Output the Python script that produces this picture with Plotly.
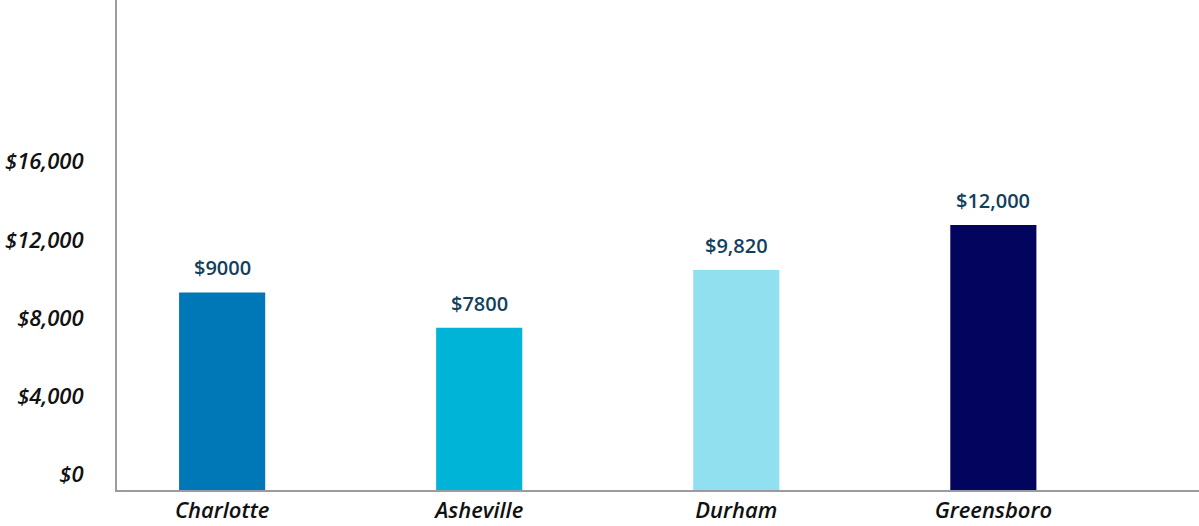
import plotly.graph_objects as go

# cities and what each bar shows
cities = ["Charlotte", "Asheville", "Durham", "Greensboro"]
bar_values = [10100, 8300, 11250, 13550]          # bar heights read against the axis
value_labels = ["$9000", "$7800", "$9,820", "$12,000"]  # text printed over the bars
bar_colors = ["#0077b6", "#00b4d8", "#90e0ef", "#03045e"]

tick_vals = [0, 4000, 8000, 12000, 16000]
tick_text = ["$0", "$4,000", "$8,000", "$12,000", "$16,000"]

axis_font = dict(family="Open Sans", size=22, color="#111111", weight=600, style="italic")

fig = go.Figure()

fig.add_trace(go.Bar(
    x=cities,
    y=bar_values,
    marker=dict(color=bar_colors, line=dict(width=0)),
    width=0.335,
    hoverinfo="skip",
))

# value labels sit a bit above each bar
for c, v, t in zip(cities, bar_values, value_labels):
    fig.add_annotation(
        x=c, y=v, text=t, showarrow=False,
        yanchor="bottom", yshift=9,
        font=dict(family="Open Sans", size=20, color="#123f5c", weight=600),
    )

fig.update_layout(
    width=1199,
    height=526,
    margin=dict(l=117, r=0, t=0, b=36),
    paper_bgcolor="white",
    plot_bgcolor="white",
    showlegend=False,
    font=dict(family="Open Sans"),
)

fig.update_xaxes(
    range=[-0.409, 3.80],
    showline=True, linecolor="#9a9aa2", linewidth=2,
    showgrid=False, ticks="",
    tickfont=axis_font,
    ticklabelstandoff=0,
    automargin=False,
    fixedrange=True,
)

fig.update_yaxes(
    range=[0, 25050],
    tickvals=tick_vals, ticktext=tick_text,
    showline=True, linecolor="#9a9aa2", linewidth=2,
    showgrid=False, zeroline=False, ticks="",
    ticklabelposition="outside top",
    tickfont=axis_font,
    ticklabelstandoff=27,
    automargin=False,
    fixedrange=True,
)

# drop the browser's default page margin so the chart fills the window
fig.write_html("out.html", config={"displayModeBar": False},
               post_script="document.body.style.margin='0';")
